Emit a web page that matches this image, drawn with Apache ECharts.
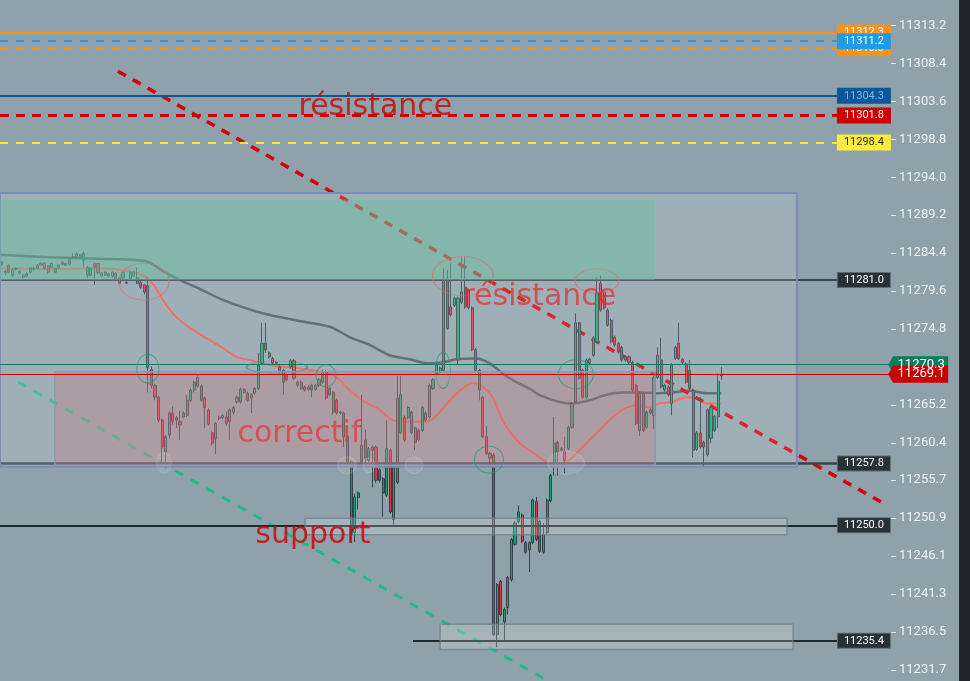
<!DOCTYPE html>
<html><head><meta charset="utf-8">
<script src="https://cdn.jsdelivr.net/npm/echarts@6/dist/echarts.min.js"></script>
<style>html,body{margin:0;padding:0;background:#8fa2ab}#c{width:970px;height:681px}</style>
</head><body><div id="c"></div>
<script>
// ---------- DATA ----------
const yTicks = [11231.7,11236.5,11241.3,11246.1,11250.9,11255.7,11260.4,11265.2,11270.0,11274.8,11279.6,11284.4,11289.2,11294.0,11298.8,11303.6,11308.4,11313.2];
// [open, close, low, high]
const candles = [
[11283.0,11283.3,11282.8,11283.4],[11282.1,11281.9,11281.6,11282.3],[11282.9,11282.0,11281.9,11283.0],[11281.6,11282.3,11281.4,11282.4],[11282.4,11282.5,11282.2,11282.6],
[11282.1,11281.9,11281.7,11282.2],[11281.6,11281.4,11281.2,11281.8],[11281.8,11281.5,11281.3,11282.0],[11282.0,11282.5,11281.8,11282.7],[11282.4,11282.5,11282.2,11282.7],
[11282.5,11282.9,11282.4,11283.0],[11282.9,11283.1,11282.8,11283.3],[11283.1,11282.5,11282.3,11283.3],[11282.8,11282.0,11281.8,11282.9],[11282.6,11283.1,11282.5,11283.2],
[11282.5,11282.0,11281.9,11282.6],[11282.6,11282.9,11282.5,11283.0],[11283.3,11283.0,11282.9,11283.4],[11283.1,11282.9,11282.8,11283.2],[11283.0,11283.8,11282.9,11283.9],
[11283.9,11284.0,11283.8,11284.4],[11283.9,11284.3,11283.8,11284.5],[11283.9,11284.2,11283.8,11284.3],[11284.4,11283.5,11282.6,11284.6],[11282.6,11281.6,11281.3,11282.8],
[11281.6,11282.5,11281.5,11282.6],[11283.1,11282.6,11280.4,11283.2],[11283.1,11281.9,11281.7,11283.2],[11281.9,11281.5,11281.4,11282.0],[11281.6,11282.0,11281.5,11282.1],
[11281.8,11281.5,11281.4,11281.9],[11282.0,11281.5,11281.3,11282.1],[11281.9,11281.1,11281.0,11282.0],[11281.3,11280.6,11280.5,11281.4],[11281.3,11282.0,11280.9,11282.1],
[11280.7,11280.6,11280.5,11280.9],[11281.1,11282.0,11281.0,11282.1],[11281.5,11282.0,11281.4,11282.1],[11281.3,11280.6,11280.5,11282.6],[11280.7,11280.1,11279.9,11280.9],
[11280.4,11279.5,11279.2,11280.5],[11280.3,11269.9,11266.8,11281.3],[11269.7,11267.7,11267.3,11270.1],[11267.7,11266.2,11265.8,11267.9],[11266.2,11263.3,11263.0,11266.4],
[11263.3,11259.9,11257.4,11263.5],[11259.3,11261.2,11257.2,11261.4],[11261.4,11264.2,11261.0,11264.4],[11264.2,11263.1,11262.7,11265.0],[11263.6,11263.3,11262.3,11263.8],
[11263.1,11262.7,11260.8,11264.5],[11263.7,11264.2,11263.5,11264.4],[11263.9,11265.8,11263.7,11266.5],[11265.8,11267.1,11265.6,11267.3],[11267.1,11268.1,11266.8,11268.3],
[11267.6,11268.7,11267.4,11269.0],[11267.6,11265.8,11265.6,11267.8],[11266.1,11264.9,11262.3,11266.3],[11264.6,11262.8,11262.6,11264.8],[11261.7,11260.4,11260.1,11261.9],
[11260.9,11262.9,11259.0,11263.1],[11263.5,11263.7,11263.3,11263.9],[11263.6,11263.9,11263.4,11264.1],[11263.7,11262.9,11262.6,11264.4],[11263.1,11264.6,11260.8,11264.8],
[11264.3,11264.9,11264.0,11265.1],[11265.6,11266.2,11265.4,11266.4],[11265.6,11267.2,11265.4,11267.4],[11266.8,11267.2,11266.6,11267.4],[11266.7,11265.8,11265.6,11266.9],
[11266.1,11266.5,11264.2,11266.7],[11266.7,11267.3,11266.5,11267.5],[11267.3,11270.3,11267.1,11271.8],[11270.5,11273.0,11270.3,11275.6],[11273.0,11272.2,11271.8,11275.6],
[11271.8,11271.3,11271.1,11272.0],[11271.1,11270.5,11270.3,11271.3],[11270.6,11270.5,11270.3,11270.8],[11270.0,11269.4,11269.2,11270.2],[11269.6,11268.1,11266.5,11269.8],
[11269.0,11268.4,11268.2,11269.2],[11270.0,11270.8,11269.8,11271.0],[11270.8,11268.6,11268.4,11271.0],[11268.1,11267.7,11267.5,11268.3],[11268.1,11267.3,11267.1,11268.3],
[11267.5,11267.1,11266.9,11267.7],[11267.2,11267.5,11267.0,11267.7],[11267.7,11267.1,11266.2,11267.9],[11267.2,11267.7,11267.0,11267.9],[11267.7,11268.4,11267.5,11268.6],
[11268.1,11269.4,11267.9,11269.6],[11269.4,11266.1,11265.9,11269.6],[11267.3,11266.5,11266.3,11267.5],[11266.8,11264.3,11264.0,11267.0],[11265.8,11264.2,11264.0,11266.0],
[11264.3,11264.2,11264.0,11264.5],[11264.2,11261.2,11259.9,11264.4],[11261.2,11258.0,11257.6,11261.4],[11258.0,11248.8,11247.9,11258.2],[11249.1,11253.6,11247.9,11254.0],
[11253.5,11254.1,11252.0,11254.3],[11258.0,11260.1,11257.6,11266.5],[11260.8,11258.5,11257.8,11262.1],[11258.2,11259.7,11258.0,11259.9],[11259.9,11259.5,11254.8,11260.1],
[11259.9,11255.7,11255.4,11260.1],[11257.0,11255.7,11255.4,11257.2],[11255.9,11254.1,11251.1,11256.1],[11253.8,11259.7,11253.6,11263.3],[11259.5,11251.7,11251.5,11259.7],
[11250.7,11257.4,11250.1,11257.6],[11255.4,11266.1,11255.2,11268.9],[11261.7,11266.5,11261.5,11268.9],[11263.7,11260.8,11260.6,11263.9],[11263.6,11264.9,11263.4,11265.1],
[11264.3,11261.7,11261.5,11264.5],[11262.3,11260.5,11259.5,11262.5],[11262.0,11260.8,11260.6,11262.2],[11262.0,11264.9,11261.8,11265.1],[11263.3,11264.2,11263.1,11264.4],
[11263.7,11267.7,11263.5,11267.9],[11267.3,11268.4,11267.1,11268.6],[11269.2,11270.3,11269.0,11270.5],[11269.4,11269.9,11269.2,11270.1],[11269.6,11281.0,11269.4,11282.5],
[11281.0,11274.9,11274.7,11282.3],[11277.6,11276.6,11276.4,11283.1],[11277.8,11278.7,11277.6,11278.9],[11270.9,11278.7,11270.3,11278.9],[11278.2,11279.5,11278.0,11284.0],
[11280.1,11277.6,11277.4,11284.0],[11279.7,11277.5,11277.3,11279.9],[11277.5,11272.2,11272.0,11277.7],[11272.2,11269.6,11269.4,11272.4],[11269.6,11267.1,11265.8,11269.8],
[11266.2,11261.2,11261.0,11266.4],[11261.2,11259.1,11258.9,11262.6],[11259.1,11258.5,11257.6,11259.3],[11258.9,11236.2,11236.0,11259.1],[11236.2,11242.5,11234.6,11242.7],
[11242.9,11238.7,11238.5,11243.1],[11237.8,11239.4,11235.5,11239.6],[11239.6,11243.4,11238.7,11243.6],[11243.1,11248.2,11242.9,11248.4],[11247.6,11250.3,11247.4,11250.5],
[11250.5,11251.7,11250.3,11252.5],[11251.3,11248.0,11247.8,11251.5],[11247.8,11246.6,11246.4,11248.0],[11246.9,11247.8,11244.1,11248.0],[11247.8,11253.2,11247.6,11253.4],
[11253.0,11248.2,11248.0,11253.6],[11250.5,11246.7,11246.5,11250.7],[11246.6,11248.8,11246.4,11250.3],[11249.1,11253.2,11248.9,11253.4],[11253.1,11256.3,11252.9,11256.5],
[11257.9,11260.4,11256.3,11263.7],[11260.5,11259.3,11256.3,11260.7],[11259.7,11259.5,11259.3,11259.9],[11259.3,11258.2,11256.6,11261.2],[11259.7,11262.4,11259.5,11262.6],
[11262.4,11265.4,11262.2,11265.6],[11265.6,11275.6,11265.4,11276.8],[11275.6,11268.6,11268.4,11275.7],[11269.6,11266.2,11266.0,11269.8],[11266.2,11270.9,11266.0,11271.1],
[11270.5,11271.0,11270.3,11271.2],[11271.5,11273.7,11271.3,11273.9],[11273.2,11279.4,11273.0,11281.3],[11280.6,11277.2,11277.0,11281.6],[11279.5,11277.5,11277.3,11279.7],
[11277.2,11275.3,11275.1,11277.4],[11275.9,11273.2,11273.0,11276.1],[11273.8,11272.8,11272.6,11274.0],[11273.0,11271.9,11271.7,11273.2],[11272.5,11270.9,11270.7,11272.7],
[11270.9,11271.3,11270.7,11271.5],[11271.3,11270.6,11270.4,11271.5],[11270.6,11267.1,11266.9,11270.8],[11267.7,11262.9,11262.7,11267.9],[11262.0,11266.7,11261.3,11266.9],
[11266.7,11262.0,11261.8,11266.9],[11262.4,11264.3,11262.2,11264.5],[11264.2,11264.6,11264.0,11264.8],[11263.9,11268.7,11262.2,11268.9],[11268.7,11271.5,11268.5,11272.5],
[11270.9,11267.5,11267.3,11273.7],[11267.1,11267.7,11266.9,11267.9],[11267.5,11266.5,11266.3,11267.7],[11265.4,11270.3,11263.9,11270.5],[11271.1,11272.5,11270.9,11272.7],
[11273.0,11271.1,11270.9,11275.6],[11271.0,11270.6,11270.4,11271.2],[11270.4,11268.1,11267.9,11270.6],[11269.6,11267.3,11267.1,11270.9],[11267.1,11259.5,11258.6,11267.3],
[11259.6,11261.7,11259.4,11261.9],[11261.7,11259.9,11259.7,11266.2],[11260.5,11259.9,11257.4,11260.7],[11258.9,11264.6,11258.7,11264.8],[11261.0,11264.9,11260.4,11265.1],
[11262.0,11263.8,11261.8,11264.0],[11263.7,11268.2,11262.3,11269.2],[11268.9,11269.1,11268.4,11270.0]
];
const slotCount = 250;
// moving averages [bar index, value]
const maSlow = [[-0.5,11284.2],[13.5,11283.9],[27.5,11283.7],[38.7,11283.5],[41.5,11283.2],[45.7,11282.0],[50,11281.0],[55.5,11279.9],[62,11278.5],[73.2,11276.8],[82.7,11275.9],[92,11275.1],[97.6,11273.8],[103.2,11272.8],[108.8,11271.5],[114.4,11271.0],[119.2,11270.5],[123.7,11270.6],[127.6,11271.0],[133.2,11271.1],[136.8,11270.5],[140.5,11269.2],[144.4,11268.1],[148,11267.3],[150.8,11266.5],[156.5,11265.6],[160.1,11265.4],[164.9,11265.8],[169.6,11266.5],[174.1,11266.8],[178.9,11266.8],[183.6,11266.7],[188.1,11266.8],[192.9,11267.0],[197.7,11266.7],[201.9,11266.7]];
const maFast = [[-0.5,11282.5],[13.5,11282.4],[27.5,11282.5],[35.9,11282.1],[40.1,11281.5],[42.9,11280.2],[45.2,11278.5],[48,11276.8],[50.8,11275.6],[54.7,11274.4],[58.4,11273.4],[62,11272.4],[65.9,11271.3],[69.6,11270.9],[73.2,11270.5],[78,11270.1],[82.7,11269.9],[87.2,11269.6],[92,11269.2],[94.8,11268.4],[97.6,11267.1],[101.2,11265.8],[106,11264.6],[109.6,11263.3],[114.4,11263.1],[119.2,11263.1],[122.8,11264.3],[126.5,11266.2],[129.3,11267.3],[132.1,11268.0],[134.9,11267.5],[137.7,11266.2],[140.5,11263.3],[143.3,11261.4],[146.1,11260.1],[150,11258.9],[152.8,11258.0],[154.5,11257.6],[158.4,11258.0],[162.1,11259.5],[164.9,11260.8],[167.7,11262.0],[169.6,11262.9],[174.1,11264.6],[178.9,11265.2],[181.7,11264.9],[184.5,11265.4],[188.1,11265.6],[192,11266.2],[194.8,11266.1],[197.7,11265.4],[201.9,11265.4]];
// horizontal levels
const levelValues = [11312.3, 11310.3, 11311.2, 11304.3, 11301.8, 11298.4, 11281.0, 11257.8, 11250.0, 11235.4];
const levelStarts = [-0.5, -0.5, -0.5, -0.5, -0.5, -0.5, -0.5, -0.5, -0.5, 115.4];
const levelEnd = 234.6;
const lastPrices = [11270.3, 11269.1];
// trend lines
const resistanceTrend = [[32.6, 11307.4], [248.1, 11252.6]];
const supportTrend = [[4.6, 11268.1], [151.9, 11230.7]];
// zones [x0, v0, x1, v1]
const zoneBoxes = [[-0.5, 11292.0, 223.1, 11257.4], [-0.5, 11291.2, 183.3, 11281.0], [14.9, 11269.4, 183.3, 11257.6], [85.1, 11250.9, 220.3, 11248.8], [123.0, 11237.5, 222.0, 11234.3]];
// annotation rings [x, value]
const redRings = [[39.9, 11280.8], [129.4, 11281.5], [167.0, 11280.9]];
const greenRings = [[41.0, 11269.8], [77.2, 11270.0], [91.0, 11268.9], [123.8, 11269.6], [136.7, 11258.3], [161.1, 11269.1]];
const softRings = [[45.5, 11257.9], [96.9, 11257.6], [103.0, 11257.6], [115.7, 11257.6], [158.3, 11257.9]];
const notes = [['résistance', 83.1, 11302.9], ['résistance', 129.1, 11278.8], ['correctif', 66.0, 11261.5], ['support', 71.0, 11248.8]];

// ---------- STYLES ----------
const levelStyles = [
  {c:'#f7931a', w:2, t:'solid', bg:'#f7931a', fg:'#fff'},
  {c:'#f7931a', w:2, t:[8,8], bg:'#f7931a', fg:'#fff'},
  {c:'#1e9be6', w:2, t:[8,8], bg:'#1e9be6', fg:'#fff'},
  {c:'#0b579a', w:2, t:'solid', bg:'#0b579a', fg:'#7db6e8'},
  {c:'#d10000', w:3, t:[9,7], bg:'#cc0000', fg:'#fff'},
  {c:'#ffe83b', w:2, t:[8,8], bg:'#ffeb3b', fg:'#2a2a2a'},
  {c:'#3a474e', w:2, t:'solid', bg:'#263238', fg:'#fff', bd:'#5b6b73'},
  {c:'#3a454b', w:2.5, t:'solid', bg:'#263238', fg:'#fff', bd:'#5b6b73'},
  {c:'#1f2a30', w:2, t:'solid', bg:'#263238', fg:'#fff', bd:'#5b6b73'},
  {c:'#1f2a30', w:2, t:'solid', bg:'#263238', fg:'#fff', bd:'#5b6b73'}
];
const lastColors = ['#0a7d5b', '#c80000'];
const zoneStyles = [
  {color:'rgba(255,255,255,0.15)', borderColor:'#7b8db6', borderWidth:2},
  {color:'rgba(100,190,160,0.45)', borderWidth:0},
  {color:'rgba(210,110,120,0.28)', borderColor:'#8b97b6', borderWidth:1.5},
  {color:'rgba(255,255,255,0.2)', borderColor:'rgba(105,125,135,0.7)', borderWidth:1.5},
  {color:'rgba(255,255,255,0.2)', borderColor:'rgba(105,125,135,0.7)', borderWidth:1.5}
];
const redRingSizes = [[50,37],[61,39],[44,24]];
const greenRingSizes = [[22,29],[61,12],[20,22],[15,36],[29,27],[35,29]];
const softRingSizes = [[15,21],[19,17],[12,15],[18,17],[37,23]];
const noteColors = ['#cf0000', 'rgba(225,40,40,0.85)', 'rgba(228,52,52,0.9)', '#cc0000'];

const chart = echarts.init(document.getElementById('c'), null, {renderer:'canvas'});
const cats = Array.from({length: slotCount}, (_, i) => String(i));

chart.setOption({
  animation: false,
  backgroundColor: '#8fa2ab',
  grid: {left: 0, right: 79, top: 0, bottom: 0, containLabel: false},
  xAxis: [
    {type:'category', data: cats, boundaryGap: true, show: false},
    {type:'value', min: -0.5, max: slotCount - 0.5, show: false}
  ],
  yAxis: {
    type:'value', position:'right', min: 11230.32, max: 11316.41,
    splitLine:{show:false}, axisLine:{show:false, onZero:false},
    axisTick:{show:true, length:5, customValues: yTicks, lineStyle:{color:'#e3e9ec', width:1}},
    axisLabel:{customValues: yTicks, formatter: v => v.toFixed(1), color:'#eef2f4', fontSize:13, fontFamily:'Roboto', margin:8}
  },
  graphic: [{type:'rect', right:0, top:0, shape:{width:11, height:681}, style:{fill:'#20272b'}, z:100}],
  series: [
    {
      type:'candlestick', xAxisIndex:0, yAxisIndex:0, data: candles, barWidth: 2.6, z:2,
      itemStyle:{color:'#14a86e', color0:'#e3343c', borderColor:'#33414a', borderColor0:'#33414a', borderWidth:1}
    },
    {
      type:'line', xAxisIndex:1, data: maSlow, smooth:0.3, showSymbol:false, z:2,
      lineStyle:{color:'#4b575d', width:2.5},
      markLine:{
        z:6, silent:true, symbol:['none','none'], animation:false,
        data: lastPrices.map((v,k)=>[{coord:[-0.5, v], lineStyle:{color:lastColors[k], width:1, type:'solid'}, label:{show:false}}, {coord:[slotCount-0.5, v]}])
      },
      markPoint:{
        z:7, silent:true, animation:false,
        data: lastPrices.map((v,k)=>({coord:[slotCount-1.3, v], symbol:'path://M0,8.5L5,0L60,0L60,17L5,17Z', symbolSize:[60,17], symbolKeepAspect:false, symbolOffset:[30,0],
          itemStyle:{color:lastColors[k]}, label:{show:true, position:'inside', formatter: v.toFixed(1), color:'#fff', fontSize:13, fontFamily:'Roboto', offset:[3,0]}}))
      }
    },
    {
      type:'line', xAxisIndex:1, data: maFast, smooth:0.3, showSymbol:false, z:2,
      lineStyle:{color:'#f0564c', width:2}
    },
    {
      type:'line', xAxisIndex:1, data: resistanceTrend, showSymbol:false, z:2,
      lineStyle:{color:'#d40000', width:3.5, type:[9,8]},
      markLine:{
        z:3, silent:true, symbol:['none','none'], animation:false,
        data: levelValues.map((v,k)=>{ const s = levelStyles[k]; return [
          {coord:[levelStarts[k], v], lineStyle:{color:s.c, width:s.w, type:s.t},
           label:{show:true, position:'end', distance:0, formatter: v.toFixed(1), color:s.fg, backgroundColor:s.bg, borderColor:s.bd || s.bg, borderWidth:1, padding:[1,6,1,6], fontSize:11, lineHeight:12, fontFamily:'Roboto'}},
          {coord:[levelEnd, v]}]; })
      }
    },
    {
      type:'line', xAxisIndex:1, data: supportTrend, showSymbol:false, z:2,
      lineStyle:{color:'#1bbd86', width:3, type:[9,9]},
      markArea:{
        z:4, silent:true, animation:false,
        data: zoneBoxes.map((b,k)=>[{coord:[b[0], b[1]], itemStyle: zoneStyles[k]}, {coord:[b[2], b[3]]}])
      }
    },
    {
      type:'scatter', xAxisIndex:1, z:6, silent:true,
      data: redRings.map((p,k)=>({value:p, symbolSize: redRingSizes[k], itemStyle:{color:'rgba(0,0,0,0)', borderColor:'rgba(225,110,100,0.85)', borderWidth:1}}))
        .concat(greenRings.map((p,k)=>({value:p, symbolSize: greenRingSizes[k], itemStyle:{color:'rgba(0,0,0,0)', borderColor:'rgba(40,150,115,0.85)', borderWidth:1}})))
        .concat(softRings.map((p,k)=>({value:p, symbolSize: softRingSizes[k], itemStyle:{color:'rgba(255,255,255,0.1)', borderColor:'rgba(255,255,255,0.18)', borderWidth:1}})))
    },
    {
      type:'scatter', xAxisIndex:1, z:8, silent:true, symbolSize:1,
      itemStyle:{color:'rgba(0,0,0,0)'},
      label:{show:true, position:'right', distance:0, fontFamily:'DejaVu Sans', fontSize:30},
      data: notes.map((n,k)=>({value:[n[1], n[2]], label:{formatter: n[0], color: noteColors[k]}}))
    }
  ]
});
</script>
</body></html>
